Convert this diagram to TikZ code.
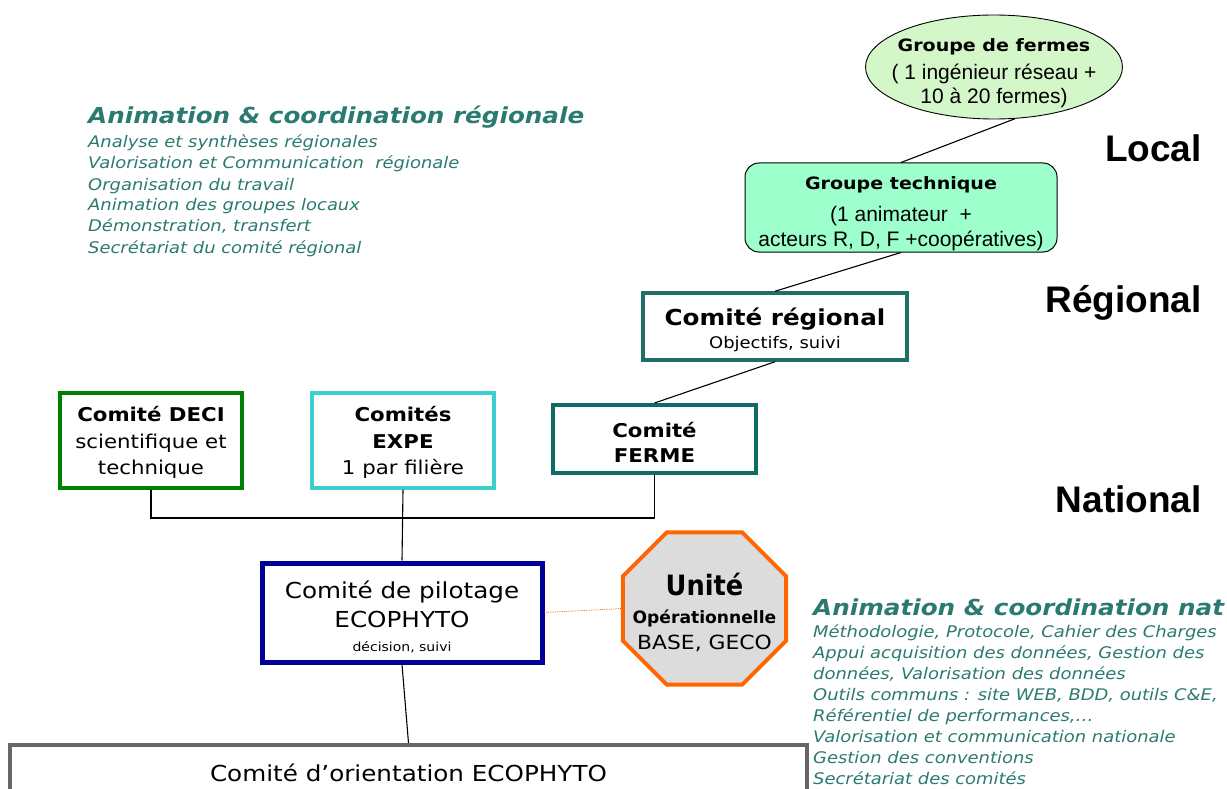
\documentclass[tikz,border=0pt]{standalone}
\usepackage{fontspec}
\usepackage{graphicx}
\setmainfont{DejaVu Sans}[FakeStretch=1.12]
\newfontfamily\arialf{Liberation Sans}
\usetikzlibrary{shapes.geometric,calc}
\definecolor{tealtxt}{HTML}{2B7A70}
\definecolor{crteal}{HTML}{1F6E68}
\definecolor{fermeteal}{HTML}{0F6B66}
\definecolor{decigreen}{HTML}{008000}
\definecolor{expecyan}{HTML}{3CCFCF}
\definecolor{pilnavy}{HTML}{000099}
\definecolor{octfill}{HTML}{DCDCDC}
\definecolor{octorange}{HTML}{FF6600}
\definecolor{botgray}{HTML}{666666}
\definecolor{ellfill}{HTML}{D4F7CA}
\definecolor{gtfill}{HTML}{9CFFCC}
\tikzset{
  box/.style={draw, rectangle, inner sep=0pt, fill=white},
  lbl/.style={align=center, inner sep=0pt},
  conn/.style={draw=black, line width=1.1pt},
  lvl/.style={anchor=base east, font=\arialf\bfseries\fontsize{37}{40}\selectfont, inner sep=0pt},
  headtxt/.style={anchor=base west, text=tealtxt, font=\bfseries\itshape\fontsize{22}{26}\selectfont, inner sep=0pt},
  itemtxt/.style={anchor=base west, text=tealtxt, font=\itshape\fontsize{16}{21}\selectfont, inner sep=0pt},
}
\begin{document}
\begin{tikzpicture}[x=1pt,y=-1pt]
\useasboundingbox (0,0) rectangle (1227,789);
% local level
\node[ellipse, draw=black, line width=0.9pt, fill=ellfill, minimum width=257, minimum height=104, inner sep=0pt] (ell) at (994,67) {};
\node[lbl, font=\arialf\fontsize{21}{24}\selectfont] (ellt) at ($(ell.center)+(0,6)$)
  {{\rmfamily\bfseries\fontsize{17}{20}\selectfont Groupe de fermes}\\[4pt]
   ( 1 ingénieur réseau +\\
   10 à 20 fermes)};
\node[draw=black, line width=1pt, fill=gtfill, rounded corners=14pt, minimum width=312, minimum height=89, inner sep=0pt] (gt) at (901,207.5) {};
\node[lbl, font=\arialf\fontsize{21}{25}\selectfont] (gtt) at ($(gt.center)+(0,6)$)
  {{\rmfamily\bfseries\fontsize{17}{20}\selectfont Groupe technique}\\[7pt]
   (1 animateur\ \ +\\
   acteurs R, D, F +coopératives)};
% regional
\node[box, draw=crteal, line width=3.5pt, minimum width=264, minimum height=67] (cr) at (775,326.5) {};
\node[lbl, font=\fontsize{22}{23}\selectfont] (crt) at ($(cr.center)+(0,3)$)
  {{\bfseries Comité régional}\\
   {\fontsize{16}{18}\selectfont Objectifs, suivi}};
% national committees
\node[box, draw=fermeteal, line width=4pt, minimum width=203, minimum height=68] (ferme) at (654.5,439) {};
\node[lbl, font=\bfseries\fontsize{19}{25}\selectfont] (fermet) at ($(ferme.center)+(0,3)$)
  {Comité\\ FERME};
\node[box, draw=decigreen, line width=4pt, minimum width=182, minimum height=95] (deci) at (151,440.5) {};
\node[lbl, font=\fontsize{19}{26.5}\selectfont] (decit) at ($(deci.center)+(0,2)$)
  {{\bfseries Comité DECI}\\ scientifique et\\ technique};
\node[box, draw=expecyan, line width=3.5pt, minimum width=182, minimum height=95] (expe) at (403,440.5) {};
\node[lbl, font=\fontsize{19}{26.5}\selectfont] (expet) at ($(expe.center)+(0,2)$)
  {{\bfseries Comités}\\ {\bfseries EXPE}\\ 1 par filière};
\node[box, draw=pilnavy, line width=5pt, minimum width=280, minimum height=99] (pil) at (402,612.5) {};
\node[lbl, font=\fontsize{22}{29}\selectfont] (pilt) at ($(pil.center)+(0,4)$)
  {Comité de pilotage\\
   ECOPHYTO\\[-5pt]
   {\fontsize{12.5}{15}\selectfont décision, suivi}};
\node[box, draw=botgray, line width=4pt, minimum width=797, minimum height=56] (bot) at (408.5,773) {};
\node[lbl, font=\fontsize{22}{26}\selectfont] (bott) at (bot.center)
  {Comité d’orientation ECOPHYTO};
% octagon
\node[rectangle, minimum width=163, minimum height=152, inner sep=0pt] (unite) at (704.5,608.5) {};
\draw[draw=octorange, fill=octfill, line width=4pt, line join=miter]
  ([xshift=44pt]unite.north west) -- ([xshift=-44pt]unite.north east)
  -- ([yshift=-44pt]unite.north east) -- ([yshift=44pt]unite.south east)
  -- ([xshift=-44pt]unite.south east) -- ([xshift=44pt]unite.south west)
  -- ([yshift=44pt]unite.south west) -- ([yshift=-44pt]unite.north west) -- cycle;
\node[lbl, font=\fontsize{19.5}{26}\selectfont] (ut) at (704.5,612)
  {\scalebox{0.82}[1]{\bfseries\fontsize{28}{29}\selectfont Unité}\\[2pt]
   \scalebox{0.9}[1]{\bfseries\fontsize{17}{20}\selectfont Opérationnelle}\\
   BASE, GECO};
% connectors
\draw[conn] (ell.-68) -- (gt.north);
\draw[conn] (gt.south) -- (cr.north);
\draw[conn] (cr.south) -- (ferme.north);
\coordinate (bus) at (0,518);
\draw[conn] (deci.south) |- (bus -| ferme.south) -- (ferme.south);
\draw[conn] (expe.south) -- (pil.north);
\draw[conn] (pil.south) -- (bot.north);
\draw[draw=octorange, line width=0.8pt, densely dotted] (pil.east) -- (unite.west);
% level labels
\node[lvl] (local) at (1202,162) {Local};
\node[lvl] (regional) at (1202,312) {Régional};
\node[lvl] (national) at (1202,512) {National};
% left text block
\node[headtxt] (hl) at (88,124) {Animation \& coordination régionale};
\foreach \t [count=\i] in {Analyse et synthèses régionales,
  Valorisation et Communication\ \ régionale,
  Organisation du travail,
  Animation des groupes locaux,
  {Démonstration, transfert},
  Secrétariat du comité régional}
  \node[itemtxt] (l\i) at (88,{127+21*\i}) {\t};
% right text block
\node[headtxt] (hr) at (813,615) {Animation \& coordination nat};
\foreach \t [count=\i] in {{Méthodologie, Protocole, Cahier des Charges},
  {Appui acquisition des données, Gestion des},
  {données, Valorisation des données},
  {Outils communs : site WEB, BDD, outils C\&E,},
  {Référentiel de performances,…},
  Valorisation et communication nationale,
  Gestion des conventions,
  Secrétariat des comités}
  \node[itemtxt] (r\i) at (813,{616+21*\i}) {\t};
\end{tikzpicture}
\end{document}
